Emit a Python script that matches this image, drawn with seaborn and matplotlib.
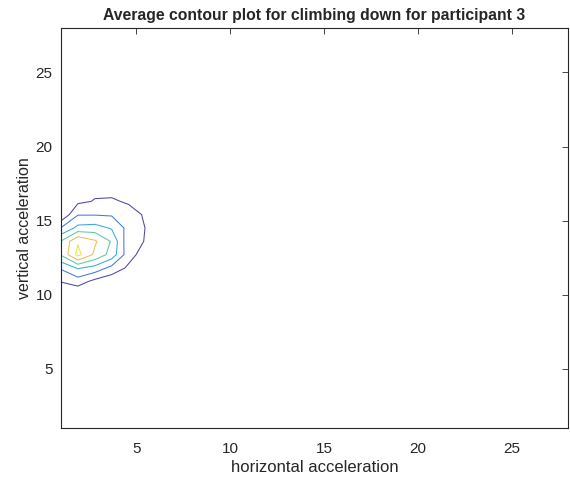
import numpy as np
import matplotlib.pyplot as plt
import seaborn as sns

# grid used by the averaged histogram (31 bins between 1 and 28)
n_bins = 31
x_grid = np.linspace(1, 28, n_bins)
y_grid = np.linspace(1, 28, n_bins)

# non-zero part of the averaged surface
# columns: x = 1.0, 1.9, 2.8, 3.7, 4.6, 5.5, 6.4
# rows: y = 10.0 ... 17.2 (bottom to top)
patch_rows = [
    [0.20, 0.10, 0.00, 0.00, 0.00, 0.00, 0.00],   # y = 10.0
    [1.05, 1.50, 0.72, 0.30, 0.10, 0.00, 0.00],   # y = 10.9
    [2.12, 3.10, 2.64, 1.68, 0.81, 0.30, 0.00],   # y = 11.8
    [4.10, 6.30, 4.80, 3.60, 1.40, 0.50, 0.10],   # y = 12.7
    [4.05, 5.90, 5.15, 3.90, 1.25, 0.97, 0.30],   # y = 13.6
    [2.05, 3.30, 3.40, 2.90, 1.65, 0.98, 0.30],   # y = 14.5
    [0.10, 1.95, 1.95, 1.90, 1.50, 0.85, 0.20],   # y = 15.4
    [0.00, 0.80, 1.05, 1.15, 0.85, 0.40, 0.10],   # y = 16.3
    [0.00, 0.40, 0.80, 0.60, 0.50, 0.20, 0.00],   # y = 17.2
]
patch_row_start = 10   # index of y = 10.0
patch_col_start = 0    # index of x = 1.0

levels = [1, 2, 3, 4, 5, 6]
level_colors = ['#4d47a2', '#4577dc', '#38abd0', '#5fc7a8', '#e8bf58', '#f0e048']

Z = np.zeros((n_bins, n_bins))
patch = np.array(patch_rows)
Z[patch_row_start:patch_row_start + patch.shape[0],
  patch_col_start:patch_col_start + patch.shape[1]] = patch

sns.set_style("white")
plt.rcParams['font.family'] = ['Liberation Sans', 'DejaVu Sans']

fig = plt.figure(figsize=(5.7, 4.79), dpi=100)
ax = fig.add_axes([61 / 570, 51 / 479, 507 / 570, 400 / 479])

ax.contour(x_grid, y_grid, Z, levels=levels, colors=level_colors, linewidths=0.75)

ax.set_xlim(1, 28)
ax.set_ylim(1, 28)
ax.set_xticks([5, 10, 15, 20, 25])
ax.set_yticks([5, 10, 15, 20, 25])

edge = '#262626'
for side in ax.spines.values():
    side.set_color(edge)
    side.set_linewidth(0.8)
ax.tick_params(direction='in', length=4, width=0.6, color=edge,
               top=True, right=True, labelsize=11, labelcolor=edge)
ax.tick_params(axis='x', pad=10)
ax.tick_params(axis='y', pad=6)

ax.set_title('Average contour plot for climbing down for participant 3',
             fontsize=11.3, fontweight='bold', pad=6)
ax.set_xlabel('horizontal acceleration', fontsize=12, color=edge)
ax.set_ylabel('vertical acceleration', fontsize=11.5, color=edge)
ax.xaxis.set_label_coords(0.5, -0.08)
ax.yaxis.set_label_coords(-0.058, 0.5)

fig.savefig('out.png', dpi=100)
